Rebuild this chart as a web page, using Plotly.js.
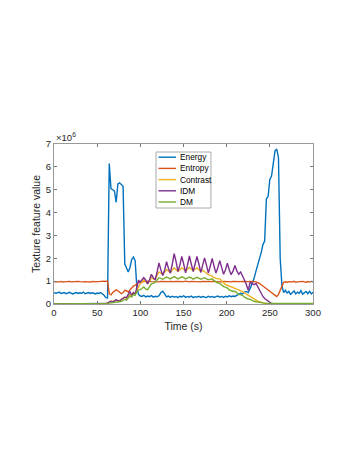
<!DOCTYPE html>
<html>
<head>
<meta charset="utf-8">
<script src="https://cdn.plot.ly/plotly-3.0.1.min.js"></script>
<style>
  body { margin: 0; background: #fff; }
  #myDiv { width: 357px; height: 462px; }
</style>
</head>
<body>
<div id="myDiv"></div>
<script>
// sampling grid (s): 2 s steps, finer 2.2 s steps through the oscillating part
function range(a, b, step) {
    var out = [];
    for (var i = 0; a + i * step <= b + 1e-9; i++) out.push(Math.round((a + i * step) * 10) / 10);
    return out;
}
var time = [].concat(range(0, 98, 2), range(99.6, 231.6, 2.2), range(234, 300, 2));

// values in units of 10^6
var energy = [
    0.50,0.47,0.49,0.52,0.46,0.48,0.50,0.45,0.49,0.51,
    0.47,0.44,0.48,0.50,0.46,0.49,0.47,0.52,0.45,0.48,
    0.50,0.46,0.49,0.47,0.44,0.48,0.46,0.50,0.45,0.38,
    0.28,0.27,6.15,5.05,5.00,4.95,4.45,5.25,5.30,5.20,
    5.15,1.75,1.55,1.40,1.60,1.95,2.05,1.90,0.70,0.42,
    0.36,0.33,0.38,0.31,0.35,0.32,0.37,0.30,0.34,0.32,
    0.36,0.50,0.56,0.40,0.31,0.35,0.29,0.34,0.30,0.33,
    0.28,0.34,0.31,0.36,0.29,0.33,0.30,0.35,0.28,0.32,
    0.30,0.34,0.29,0.33,0.31,0.28,0.34,0.30,0.33,0.29,
    0.32,0.35,0.30,0.33,0.29,0.34,0.31,0.36,0.32,0.35,
    0.33,0.38,0.42,0.47,0.44,0.52,0.55,0.50,0.68,0.90,
    1.10,
    1.45,1.70,2.00,2.25,2.60,2.75,4.60,4.70,5.45,5.60,
    6.15,6.70,6.78,6.40,2.00,0.80,0.50,0.60,0.48,0.55,
    0.42,0.50,0.57,0.44,0.52,0.47,0.58,0.43,0.51,0.55,
    0.45,0.56,0.44,0.52
];
var entropy = [
    0.97,0.96,0.98,0.97,0.99,0.96,0.97,0.98,0.96,0.99,
    0.97,0.98,0.96,0.97,0.99,0.98,0.96,0.97,0.98,0.99,
    0.97,0.96,0.98,0.99,0.97,0.98,0.99,1.00,0.99,1.00,
    0.99,1.00,0.45,0.40,0.50,0.56,0.62,0.58,0.50,0.45,
    0.50,0.60,0.58,0.52,0.62,0.72,0.78,0.82,0.90,0.95,
    0.97,0.98,0.99,0.97,0.98,1.00,0.98,0.97,0.99,0.98,
    0.97,0.99,0.98,1.00,0.97,0.98,0.99,0.97,0.98,0.99,
    0.98,0.97,0.99,0.98,1.00,0.98,0.97,0.99,0.98,0.97,
    0.99,0.98,0.97,0.99,0.98,1.00,0.97,0.98,0.99,0.98,
    0.97,0.99,0.98,0.97,0.99,0.98,1.00,0.98,0.97,0.99,
    0.98,0.99,0.97,0.98,0.99,0.98,0.97,0.98,0.99,0.97,
    0.98,
    0.97,0.95,0.90,0.84,0.78,0.74,0.70,0.64,0.58,0.52,
    0.45,0.38,0.33,0.42,0.60,0.85,0.95,0.97,0.95,0.98,
    0.96,0.97,0.99,0.95,0.97,0.98,0.96,0.99,0.97,0.95,
    0.98,0.96,0.99,0.97
];
var contrast = [
    0,0,0,0,0,0,0,0,0,0,
    0,0,0,0,0,0,0,0,0,0,
    0,0,0,0,0,0,0,0,0,0.01,
    0.02,0.04,0.08,0.12,0.10,0.14,0.18,0.12,0.16,0.22,
    0.25,0.30,0.22,0.34,0.42,0.38,0.50,0.45,0.60,0.82,
    0.88,0.95,1.05,0.98,0.90,1.00,1.15,1.10,1.08,1.25,
    1.40,1.35,1.30,1.40,1.50,1.45,1.38,1.48,1.58,1.50,
    1.42,1.50,1.58,1.52,1.45,1.52,1.60,1.53,1.46,1.52,
    1.58,1.50,1.42,1.48,1.40,1.32,1.28,1.25,1.22,1.15,
    1.12,1.10,1.10,1.02,0.90,0.85,0.82,0.78,0.76,0.72,
    0.68,0.65,0.62,0.58,0.55,0.50,0.43,0.38,0.32,0.26,
    0.20,
    0.17,0.13,0.10,0.07,0.05,0.03,0.02,0.01,0,0,
    0,0,0,0,0,0,0,0,0,0,
    0,0,0,0,0,0,0,0,0,0,
    0,0,0,0
];
var idm = [
    0,0,0,0,0,0,0,0,0,0,
    0,0,0,0,0,0,0,0,0,0,
    0,0,0,0,0,0,0,0,0,0,
    0.02,0.05,0.10,0.12,0.08,0.13,0.18,0.15,0.12,0.20,
    0.24,0.30,0.28,0.45,0.55,0.38,0.50,0.42,0.75,1.05,
    0.95,1.05,1.15,1.05,0.88,1.05,1.30,1.15,1.05,1.40,
    1.80,1.50,1.25,1.50,1.85,1.55,1.35,1.75,2.20,1.85,
    1.42,1.70,2.08,1.75,1.36,1.70,2.10,1.75,1.42,1.75,
    2.08,1.75,1.38,1.70,2.02,1.70,1.35,1.65,2.00,1.65,
    1.35,1.60,1.90,1.60,1.30,1.50,1.78,1.50,1.28,1.45,
    1.68,1.45,1.30,1.40,1.25,1.05,0.85,0.60,0.95,0.90,
    0.85,
    0.90,0.75,0.60,0.45,0.33,0.24,0.18,0.10,0.05,0.02,
    0.01,0,0,0,0,0,0,0,0,0,
    0,0,0,0,0,0,0,0,0,0,
    0,0,0,0
];
var dm = [
    0,0,0,0,0,0,0,0,0,0,
    0,0,0,0,0,0,0,0,0,0,
    0,0,0,0,0,0,0,0,0,0,
    0.01,0.02,0.04,0.05,0.04,0.06,0.08,0.06,0.10,0.12,
    0.15,0.20,0.17,0.28,0.35,0.30,0.42,0.38,0.55,0.62,
    0.62,0.68,0.75,0.66,0.62,0.75,0.88,0.90,0.95,1.05,
    1.15,1.12,1.08,1.13,1.18,1.14,1.10,1.15,1.20,1.15,
    1.10,1.14,1.19,1.15,1.10,1.14,1.18,1.14,1.09,1.13,
    1.17,1.13,1.08,1.12,1.15,1.10,1.06,1.08,1.10,1.02,
    0.95,0.92,0.90,0.82,0.76,0.74,0.70,0.62,0.57,0.55,
    0.56,0.48,0.42,0.40,0.38,0.30,0.25,0.22,0.20,0.15,
    0.12,
    0.10,0.08,0.07,0.06,0.05,0.04,0.03,0.02,0.02,0.02,
    0.02,0.02,0.02,0.02,0.02,0.02,0.02,0.02,0.02,0.02,
    0.02,0.02,0.02,0.02,0.02,0.02,0.02,0.02,0.02,0.02,
    0.02,0.02,0.02,0.02
];

var names = ['Energy', 'Entropy', 'Contrast', 'IDM', 'DM'];
var series = [energy, entropy, contrast, idm, dm];
var colors = ['#0072BD', '#D95319', '#EDB120', '#7E2F8E', '#77AC30'];
var font = 'Liberation Sans, Arial, sans-serif';

var data = series.map(function(s, i) {
    return {
        x: time,
        y: s,
        mode: 'lines',
        name: names[i],
        showlegend: false,
        line: { color: colors[i], width: 1.4 }
    };
});

// compact MATLAB-style legend box (paper coords of the plot area)
var shapes = [{
    type: 'rect', xref: 'paper', yref: 'paper',
    x0: 0.394, x1: 0.606, y0: 0.60, y1: 0.95,
    fillcolor: '#fff', line: { color: '#aaa', width: 1 }, layer: 'above'
}];
var annotations = [{
    xref: 'paper', yref: 'paper', x: 0, y: 1, xanchor: 'left', yanchor: 'bottom',
    text: '×10<sup>6</sup>', showarrow: false, yshift: -1,
    font: { family: font, size: 9.5, color: '#262626' }
}];
names.forEach(function(n, i) {
    var y = 0.9175 - i * 0.07;
    shapes.push({
        type: 'line', xref: 'paper', yref: 'paper', layer: 'above',
        x0: 0.4035, x1: 0.471, y0: y, y1: y,
        line: { color: colors[i], width: 1.4 }
    });
    annotations.push({
        xref: 'paper', yref: 'paper', x: 0.477, y: y, xanchor: 'left', yanchor: 'middle',
        text: n, showarrow: false,
        font: { family: font, size: 8.3, color: '#000' }
    });
});

var axisStyle = {
    showline: true,
    linecolor: '#999',
    linewidth: 1,
    mirror: 'ticks',
    ticks: 'inside',
    ticklen: 3,
    tickcolor: '#777',
    showgrid: false,
    zeroline: false,
    tickfont: { family: font, size: 9.5, color: '#262626' }
};

var layout = {
    width: 357,
    height: 462,
    margin: { l: 54, r: 44, t: 144, b: 158 },
    paper_bgcolor: '#fff',
    plot_bgcolor: '#fff',
    showlegend: false,
    xaxis: Object.assign({}, axisStyle, {
        range: [0, 300], dtick: 50, tick0: 0,
        title: { text: 'Time (s)', standoff: 5, font: { family: font, size: 10.5, color: '#262626' } }
    }),
    yaxis: Object.assign({}, axisStyle, {
        range: [0, 7], dtick: 1, tick0: 0,
        title: { text: 'Texture feature value', standoff: 3, font: { family: font, size: 10.5, color: '#262626' } }
    }),
    shapes: shapes,
    annotations: annotations
};

Plotly.newPlot('myDiv', data, layout, { displayModeBar: false, staticPlot: true });
</script>
</body>
</html>
